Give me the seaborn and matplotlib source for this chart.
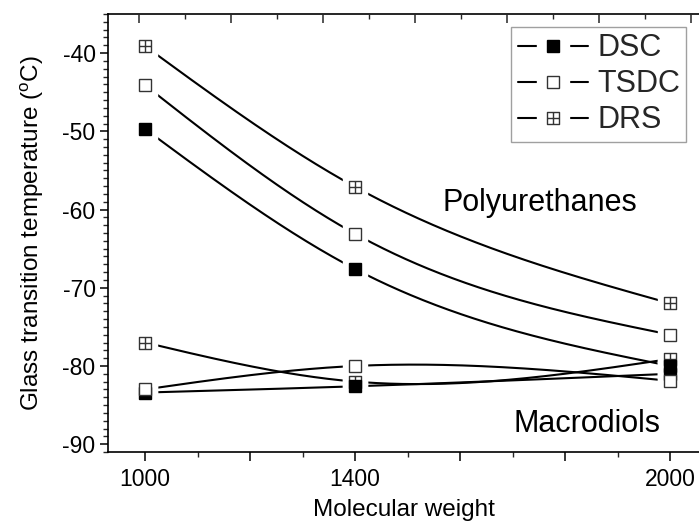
import numpy as np
import pandas as pd
import matplotlib
matplotlib.use("Agg")
import matplotlib.pyplot as plt
from matplotlib.path import Path
from matplotlib.lines import Line2D
from matplotlib.legend_handler import HandlerTuple
from matplotlib.ticker import MultipleLocator, FixedLocator
import seaborn as sns

# ---------------- data ----------------
mol_weight = [1000, 1400, 2000]
series_names = ["DSC", "TSDC", "DRS"]
pu_dsc = [-49.7, -67.6, -80.0]
pu_tsdc = [-44.1, -63.1, -76.0]
pu_drs = [-39.1, -57.1, -72.0]
md_dsc = [-83.4, -82.6, -81.0]
md_tsdc = [-83.0, -80.0, -81.9]
md_drs = [-77.0, -82.0, -79.1]
x_ticklabels = ["1000", "1400", "2000"]

sns.set_theme(style="ticks")
plt.rcParams["font.family"] = ["Liberation Sans", "DejaVu Sans"]
plt.rcParams["mathtext.fontset"] = "custom"
plt.rcParams["mathtext.rm"] = "Liberation Sans"
plt.rcParams["mathtext.it"] = "Liberation Sans:italic"
plt.rcParams["axes.unicode_minus"] = False


def natural_spline(xs, ys, n=200):
    xs = np.asarray(xs, float)
    ys = np.asarray(ys, float)
    h = np.diff(xs)
    # 3-point natural cubic spline: M0 = M2 = 0
    m1 = 3 * ((ys[2] - ys[1]) / h[1] - (ys[1] - ys[0]) / h[0]) / (h[0] + h[1])
    M = np.array([0.0, m1, 0.0])
    out_x, out_y = [], []
    for i in range(2):
        t = np.linspace(xs[i], xs[i + 1], n)
        a = xs[i + 1] - t
        b = t - xs[i]
        s = (M[i] * a ** 3 / (6 * h[i]) + M[i + 1] * b ** 3 / (6 * h[i])
             + (ys[i] / h[i] - M[i] * h[i] / 6) * a
             + (ys[i + 1] / h[i] - M[i + 1] * h[i] / 6) * b)
        out_x.append(t)
        out_y.append(s)
    return np.concatenate(out_x), np.concatenate(out_y)


# crossed-square marker
cross_sq = Path(
    [(-1, -1), (1, -1), (1, 1), (-1, 1), (-1, -1), (0, -1), (0, 1), (-1, 0), (1, 0)],
    [Path.MOVETO, Path.LINETO, Path.LINETO, Path.LINETO, Path.CLOSEPOLY,
     Path.MOVETO, Path.LINETO, Path.MOVETO, Path.LINETO],
)

styles = {
    "DSC": dict(marker="s", mfc="black", mec="black"),
    "TSDC": dict(marker="s", mfc="white", mec="#333333"),
    "DRS": dict(marker=cross_sq, mfc="white", mec="#333333"),
}

fig = plt.figure(figsize=(6.99, 5.25), dpi=100)
ax = fig.add_axes([108 / 699, 1 - 452 / 525, 591 / 699, 438 / 525])

# draw order: macrodiols (DRS, DSC, TSDC), then polyurethanes
draw = [
    ("DRS", md_drs), ("DSC", md_dsc), ("TSDC", md_tsdc),
    ("TSDC", pu_tsdc), ("DRS", pu_drs), ("DSC", pu_dsc),
]

LW = 1.5
MS = 9.3
GAP = 8
for k, (name, vals) in enumerate(draw):
    cx, cy = natural_spline(mol_weight, vals)
    sns.lineplot(x=cx, y=cy, ax=ax, color="black", lw=LW, sort=False,
                 estimator=None, zorder=2)

for k, (name, vals) in enumerate(draw):
    ax.plot(mol_weight, vals, ls="none", marker="s", ms=MS + GAP,
            mfc="white", mec="white", zorder=3 + k * 0.01)
for k, (name, vals) in enumerate(draw):
    st = styles[name]
    ax.plot(mol_weight, vals, ls="none", marker=st["marker"], ms=MS,
            mfc=st["mfc"], mec=st["mec"], mew=1.0, zorder=4 + k * 0.01)

ax.set_xlim(929.5, 2055)
ax.set_ylim(-91.0, -35.0)

ax.xaxis.set_major_locator(FixedLocator([1000, 1200, 1400, 1600, 1800, 2000]))
ax.xaxis.set_minor_locator(MultipleLocator(100))
ax.set_xticklabels(["1000", "", "1400", "", "", "2000"])
ax.yaxis.set_major_locator(MultipleLocator(10))
ax.yaxis.set_minor_locator(MultipleLocator(1))

ax.tick_params(axis="both", which="major", labelsize=16.5, color="black",
               width=1.1, labelcolor="black")
ax.tick_params(axis="x", which="major", length=6.5, direction="out", pad=5)
ax.tick_params(axis="x", which="minor", length=3.5, width=1.0, direction="out")
ax.tick_params(axis="y", which="major", length=6, direction="out", pad=3)
ax.tick_params(axis="y", which="minor", length=3.5, width=1.0, direction="out")

for side in ["left", "bottom", "top"]:
    ax.spines[side].set_linewidth(1.2)
    ax.spines[side].set_color("black")
ax.spines["right"].set_visible(False)

# top axis with its own inward ticks
top = ax.twiny()
top.set_xlim((108 - 139) / 92, (699 - 139) / 92)
top.xaxis.set_major_locator(MultipleLocator(1))
top.xaxis.set_minor_locator(MultipleLocator(0.5))
top.tick_params(axis="x", which="major", direction="in", length=6.5, width=1.1,
                labeltop=False, top=True)
top.tick_params(axis="x", which="minor", direction="in", length=3.5, width=1.0,
                top=True)
for s in top.spines.values():
    s.set_visible(False)

ax.set_xlabel("Molecular weight", fontsize=17.5, labelpad=6, color="black")
ax.set_ylabel(r"Glass transition temperature ($^{\mathrm{o}}$C)", fontsize=17.5,
              labelpad=12, color="black")

ax.text(1567, -59.2, "Polyurethanes", fontsize=22, ha="left", va="center",
        color="black")
ax.text(1701, -87.4, "Macrodiols", fontsize=22, ha="left", va="center",
        color="black")

handles = []
for name in series_names:
    st = styles[name]
    ln = Line2D([], [], color="black", lw=LW)
    gap = Line2D([], [], ls="none", marker="s", ms=MS + 2 * GAP - 2, mfc="white",
                 mec="white")
    mk = Line2D([], [], ls="none", marker=st["marker"], ms=MS, mfc=st["mfc"],
                mec=st["mec"], mew=1.0)
    handles.append((ln, gap, mk))

leg = ax.legend(handles, series_names, loc="upper right",
                bbox_to_anchor=(0.978, 0.970), borderaxespad=0,
                handler_map={tuple: HandlerTuple(ndivide=1, pad=0)},
                fontsize=22, handlelength=2.3, handletextpad=0.3,
                labelspacing=0.2, borderpad=0.2, frameon=True, fancybox=False)
leg.get_frame().set_edgecolor("#888888")
leg.get_frame().set_linewidth(1.0)
leg.set_zorder(10)

fig.savefig("out.png", dpi=100)
